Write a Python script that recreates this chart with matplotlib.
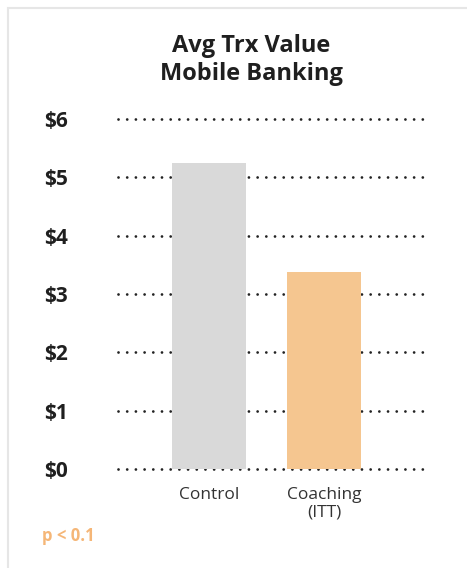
import matplotlib.pyplot as plt
from matplotlib.patches import Rectangle

# Chart data
groups = ["Control", "Coaching\n(ITT)"]
values = [5.25, 3.38]
bar_colors = ["#d9d9d9", "#f5c690"]
ticks = [0, 1, 2, 3, 4, 5, 6]
tick_labels = ["$0", "$1", "$2", "$3", "$4", "$5", "$6"]

plt.rcParams['font.family'] = ['Open Sans', 'DejaVu Sans']

fig = plt.figure(figsize=(4.67, 5.68), dpi=100)

# faint card edge (top and left shadow)
fig.patches.append(Rectangle((8 / 467, -0.1), 2.0, (568 - 8) / 568 + 0.1,
                             transform=fig.transFigure, fill=False,
                             edgecolor="#e6e6e6", linewidth=1.5))

ax = fig.add_axes([118 / 467, 1 - 469 / 568, (427 - 118) / 467, (469 - 119) / 568])
x = list(range(len(groups)))
ax.bar(x, values, width=0.645, color=bar_colors, zorder=3)

ax.set_xlim(-0.79, 1.895)
ax.set_ylim(0, 6)
ax.set_yticks(ticks)
ax.set_yticklabels(tick_labels, fontsize=15, fontweight="bold", color="#1f1f1f")
ax.set_xticks(x)
ax.set_xticklabels(groups, fontsize=12.5, color="#333333", linespacing=1.1)
ax.tick_params(axis="y", length=0)
ax.tick_params(axis="x", length=0, pad=13)
for lbl in ax.get_yticklabels():
    lbl.set_horizontalalignment("left")
ax.yaxis.set_tick_params(pad=53)

for t in ticks:
    ax.axhline(t, color="#222222", linewidth=2.0, linestyle=(0, (0.01, 3.12)),
               dash_capstyle="round", zorder=1, clip_on=False)

for s in ax.spines.values():
    s.set_visible(False)

fig.text(251 / 467, 1 - 60 / 568, "Avg Trx Value\nMobile Banking", ha="center", va="center",
         fontsize=17, fontweight="bold", color="#1f1f1f", linespacing=1.2)
fig.text(42 / 467, 1 - 536 / 568, "p < 0.1", ha="left", va="center",
         fontsize=12, fontweight="bold", color="#f5b677")

fig.savefig("out.png", dpi=100)
